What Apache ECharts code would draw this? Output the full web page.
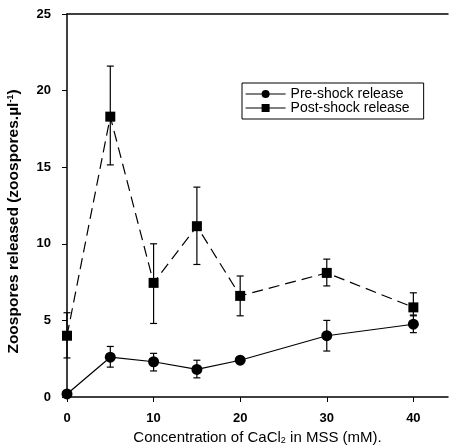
<!DOCTYPE html>
<html><head><meta charset="utf-8">
<script src="https://cdn.jsdelivr.net/npm/echarts@6/dist/echarts.min.js"></script>
<style>html,body{margin:0;padding:0;background:#fff}#c{width:452px;height:446px}</style>
</head><body><div id="c"></div>
<script>
const concentrations = [0, 5, 10, 15, 20, 30, 40];
const preMean = [0.2, 2.6, 2.3, 1.8, 2.4, 4.0, 4.75];
const preLow  = [0.2, 1.95, 1.7, 1.25, 2.3, 3.0, 4.2];
const preHigh = [0.2, 3.3, 2.85, 2.4, 2.5, 5.0, 5.3];
const postMean = [4.0, 18.3, 7.45, 11.15, 6.6, 8.1, 5.85];
const postLow  = [2.55, 15.15, 4.8, 8.65, 5.3, 7.25, 5.35];
const postHigh = [5.5, 21.6, 10.0, 13.7, 7.9, 9.0, 6.8];
const xTicks = [0, 10, 20, 30, 40];
const yTicks = [0, 5, 10, 15, 20, 25];

const FONT = 'Liberation Sans, Arial, sans-serif';
const chart = echarts.init(document.getElementById('c'));

function pairs(xs, ys) { return xs.map((x, i) => [x, ys[i]]); }
function errData(xs, lo, hi) { return xs.map((x, i) => [x, lo[i], hi[i]]); }
function errRender(params, api) {
  const x = api.value(0);
  const lo = api.coord([x, api.value(1)]);
  const hi = api.coord([x, api.value(2)]);
  const w = 3.5;
  const st = { stroke: '#000', lineWidth: 1.2 };
  return { type: 'group', children: [
    { type: 'line', shape: { x1: lo[0], y1: lo[1], x2: hi[0], y2: hi[1] }, style: st },
    { type: 'line', shape: { x1: lo[0] - w, y1: lo[1], x2: lo[0] + w, y2: lo[1] }, style: st },
    { type: 'line', shape: { x1: hi[0] - w, y1: hi[1], x2: hi[0] + w, y2: hi[1] }, style: st }
  ]};
}

chart.setOption({
  animation: false,
  backgroundColor: '#fff',
  grid: { left: 67, top: 14, right: 4, bottom: 49, containLabel: false, outerBoundsMode: 'none' },
  legend: {
    data: ['Pre-shock release', 'Post-shock release'],
    orient: 'vertical', left: 242, top: 83,
    itemWidth: 40, itemHeight: 10, itemGap: 0,
    borderColor: '#000', borderWidth: 1, padding: [4, 14, 4, 3],
    lineStyle: { type: 'solid', width: 1.2 },
    textStyle: { fontFamily: FONT, fontSize: 14, color: '#000', lineHeight: 12 }
  },
  xAxis: [{
    type: 'value', min: 0, max: 44, interval: 10,
    axisLine: { show: true, onZero: false, lineStyle: { color: '#000', width: 1.5 } },
    axisTick: { show: true, inside: false, length: 5, lineStyle: { color: '#000' },
      customValues: xTicks },
    axisLabel: { color: '#000', fontFamily: FONT, fontWeight: 'bold', fontSize: 13, margin: 15,
      customValues: xTicks },
    splitLine: { show: false },
    name: 'Concentration of CaCl{sub|2} in MSS (mM).',
    nameLocation: 'middle', nameGap: 27,
    nameTextStyle: { color: '#000', fontFamily: FONT, fontSize: 15,
      rich: { sub: { fontSize: 9, fontFamily: FONT, color: '#000', verticalAlign: 'bottom', padding: [6, 0, 0, 0] } } }
  }, {
    type: 'value', position: 'top', min: 0, max: 44,
    axisLine: { show: true, onZero: false, lineStyle: { color: '#000', width: 1.5 } },
    axisTick: { show: false }, axisLabel: { show: false }, splitLine: { show: false }
  }],
  yAxis: {
    type: 'value', min: 0, max: 25, interval: 5,
    axisLine: { show: true, onZero: false, lineStyle: { color: '#000', width: 1.5 } },
    axisTick: { show: true, inside: false, length: 5, lineStyle: { color: '#000' } },
    axisLabel: { color: '#000', fontFamily: FONT, fontWeight: 'bold', fontSize: 13, margin: 16 },
    splitLine: { show: false },
    name: 'Zoospores released (zoospores.µl{sup|-1})',
    nameLocation: 'middle', nameGap: 45, nameRotate: 90,
    nameTextStyle: { color: '#000', fontFamily: FONT, fontSize: 15.5, fontWeight: 'bold',
      padding: [0, 32, 0, 0],
      rich: { sup: { fontSize: 9, fontFamily: FONT, fontWeight: 'bold', color: '#000', verticalAlign: 'top', padding: [0, 0, 7, 0] } } }
  },
  series: [
    { type: 'custom', name: 'postErr', data: errData(concentrations, postLow, postHigh), renderItem: errRender, z: 1, silent: true },
    { type: 'custom', name: 'preErr', data: errData(concentrations, preLow, preHigh), renderItem: errRender, z: 1, silent: true },
    { type: 'line', name: 'Pre-shock release', data: pairs(concentrations, preMean),
      symbol: 'circle', symbolSize: 11,
      lineStyle: { color: '#000', width: 1.2 }, itemStyle: { color: '#000' }, z: 3 },
    { type: 'line', name: 'Post-shock release', data: pairs(concentrations, postMean),
      symbol: 'rect', symbolSize: 10,
      lineStyle: { color: '#000', width: 1.2, type: [11, 6] }, itemStyle: { color: '#000' }, z: 3 }
  ]
});
</script></body></html>
